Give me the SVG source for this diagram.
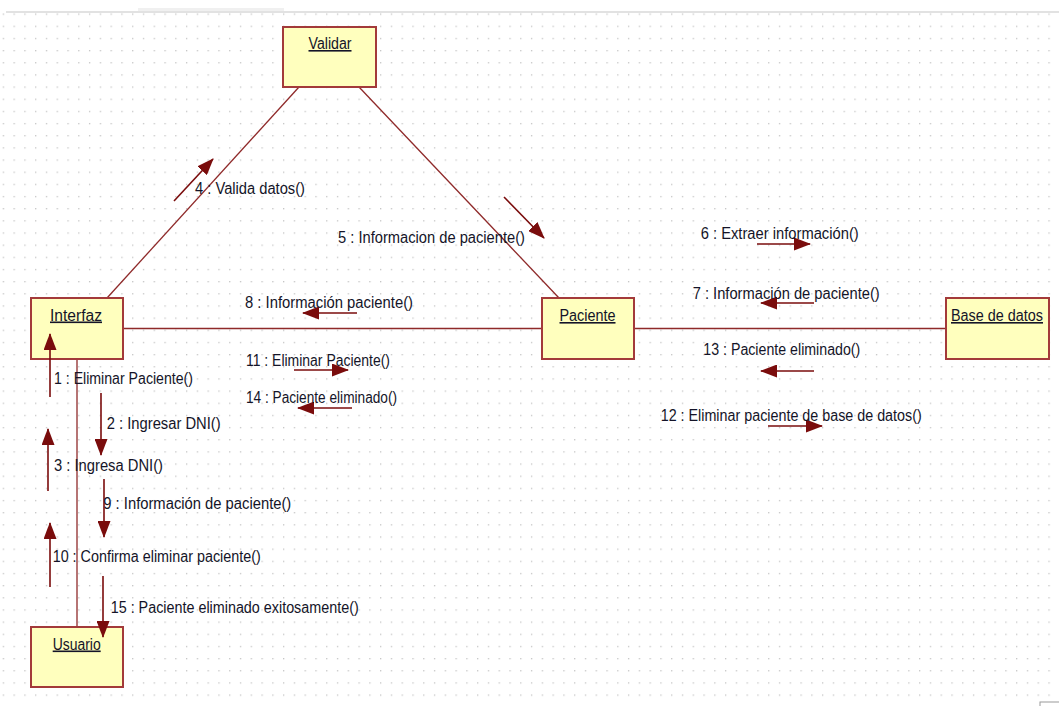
<svg xmlns="http://www.w3.org/2000/svg" width="1059" height="706" viewBox="0 0 1059 706">
<style>
.node rect{fill:#ffffbe;stroke:#a33a3a;stroke-width:2}
.name{font-family:"Liberation Sans",Arial,sans-serif;font-size:16px;fill:#141428;text-anchor:start;text-decoration:underline}
.lbl{font-family:"Liberation Sans",Arial,sans-serif;font-size:16px;fill:#141428}
.conn{stroke:#8f2a2a;stroke-width:1.3;fill:none}
.msg{stroke:#7a0c0c;stroke-width:1.6;fill:none;marker-end:url(#ah)}
</style>
<defs>
<pattern id="grid" x="13.5" y="13.5" width="10.78" height="12.16" patternUnits="userSpaceOnUse">
<rect x="0" y="0" width="1.3" height="1.3" fill="#c4c4c4"/>
</pattern>
<marker id="ah" viewBox="0 0 17 13" markerWidth="17" markerHeight="13" refX="16" refY="6.5" orient="auto" markerUnits="userSpaceOnUse">
<path d="M0,0 L17,6.5 L0,13 Z" fill="#7a0c0c"/>
</marker>
</defs>
<rect x="0" y="0" width="1059" height="706" fill="#ffffff"/>
<rect x="138" y="8" width="146" height="3" fill="#f0f0f0"/>
<rect x="6" y="11" width="1053" height="2" fill="#e2e2e2"/>
<rect x="0" y="13" width="1059" height="690" fill="url(#grid)"/>
<rect x="1040" y="702" width="22" height="8" fill="#ffffff" stroke="#9a9a9a" stroke-width="1"/>

<g id="connectors">
<line class="conn" x1="123" y1="328.5" x2="542" y2="328.5"/>
<line class="conn" x1="634" y1="328.5" x2="946" y2="328.5"/>
<line class="conn" x1="107" y1="298" x2="299" y2="87"/>
<line class="conn" x1="359" y1="87" x2="559" y2="298"/>
<line class="conn" x1="77" y1="359" x2="77" y2="627"/>
</g>

<g id="node-validar" class="node">
<rect x="283" y="27" width="93" height="60"/>
<text class="name" x="308.5" y="49" textLength="43" lengthAdjust="spacingAndGlyphs">Validar</text>
</g>
<g id="node-interfaz" class="node">
<rect x="31" y="298" width="92" height="61"/>
<text class="name" x="50" y="320.5" textLength="52" lengthAdjust="spacingAndGlyphs">Interfaz</text>
</g>
<g id="node-paciente" class="node">
<rect x="542" y="298" width="92" height="61"/>
<text class="name" x="559.5" y="321" textLength="56" lengthAdjust="spacingAndGlyphs">Paciente</text>
</g>
<g id="node-basedatos" class="node">
<rect x="946" y="298" width="103" height="61"/>
<text class="name" x="951" y="321" textLength="92" lengthAdjust="spacingAndGlyphs">Base de datos</text>
</g>
<g id="node-usuario" class="node">
<rect x="31" y="627" width="92" height="60"/>
<text class="name" x="52.7" y="649.5" textLength="48" lengthAdjust="spacingAndGlyphs">Usuario</text>
</g>

<g id="messages">
<line class="msg" x1="50" y1="397" x2="50" y2="334"/>
<line class="msg" x1="101" y1="393" x2="101" y2="455"/>
<line class="msg" x1="48" y1="491" x2="48" y2="429"/>
<line class="msg" x1="104" y1="479" x2="104" y2="537"/>
<line class="msg" x1="50" y1="587" x2="50" y2="523"/>
<line class="msg" x1="103" y1="576" x2="103" y2="637"/>
<line class="msg" x1="357" y1="313" x2="303" y2="313"/>
<line class="msg" x1="294" y1="370" x2="348" y2="370"/>
<line class="msg" x1="352" y1="408" x2="298" y2="408"/>
<line class="msg" x1="757" y1="244" x2="810" y2="244"/>
<line class="msg" x1="814" y1="303" x2="761" y2="303"/>
<line class="msg" x1="814" y1="371" x2="761" y2="371"/>
<line class="msg" x1="768" y1="426" x2="822" y2="426"/>
<line class="msg" x1="174" y1="201" x2="213" y2="159"/>
<line class="msg" x1="504" y1="197" x2="544" y2="238"/>
</g>

<g id="labels">
<text class="lbl" x="195" y="193.5" textLength="110" lengthAdjust="spacingAndGlyphs">4 : Valida datos()</text>
<text class="lbl" x="338" y="242.5" textLength="187" lengthAdjust="spacingAndGlyphs">5 : Informacion de paciente()</text>
<text class="lbl" x="700.7" y="239" textLength="158" lengthAdjust="spacingAndGlyphs">6 : Extraer información()</text>
<text class="lbl" x="692.7" y="298.5" textLength="187" lengthAdjust="spacingAndGlyphs">7 : Información de paciente()</text>
<text class="lbl" x="245" y="307.5" textLength="168" lengthAdjust="spacingAndGlyphs">8 : Información paciente()</text>
<text class="lbl" x="246" y="365.5" textLength="144" lengthAdjust="spacingAndGlyphs">11 : Eliminar Paciente()</text>
<text class="lbl" x="246" y="403" textLength="151" lengthAdjust="spacingAndGlyphs">14 : Paciente eliminado()</text>
<text class="lbl" x="703.3" y="355" textLength="157" lengthAdjust="spacingAndGlyphs">13 : Paciente eliminado()</text>
<text class="lbl" x="660.7" y="420.5" textLength="261" lengthAdjust="spacingAndGlyphs">12 : Eliminar paciente de base de datos()</text>
<text class="lbl" x="54" y="383.5" textLength="139" lengthAdjust="spacingAndGlyphs">1 : Eliminar Paciente()</text>
<text class="lbl" x="106.7" y="429" textLength="114" lengthAdjust="spacingAndGlyphs">2 : Ingresar DNI()</text>
<text class="lbl" x="54" y="470.5" textLength="109" lengthAdjust="spacingAndGlyphs">3 : Ingresa DNI()</text>
<text class="lbl" x="103.3" y="508.5" textLength="188" lengthAdjust="spacingAndGlyphs">9 : Información de paciente()</text>
<text class="lbl" x="52.7" y="561.5" textLength="208" lengthAdjust="spacingAndGlyphs">10 : Confirma eliminar paciente()</text>
<text class="lbl" x="110.7" y="612.5" textLength="248" lengthAdjust="spacingAndGlyphs">15 : Paciente eliminado exitosamente()</text>
</g>
</svg>
